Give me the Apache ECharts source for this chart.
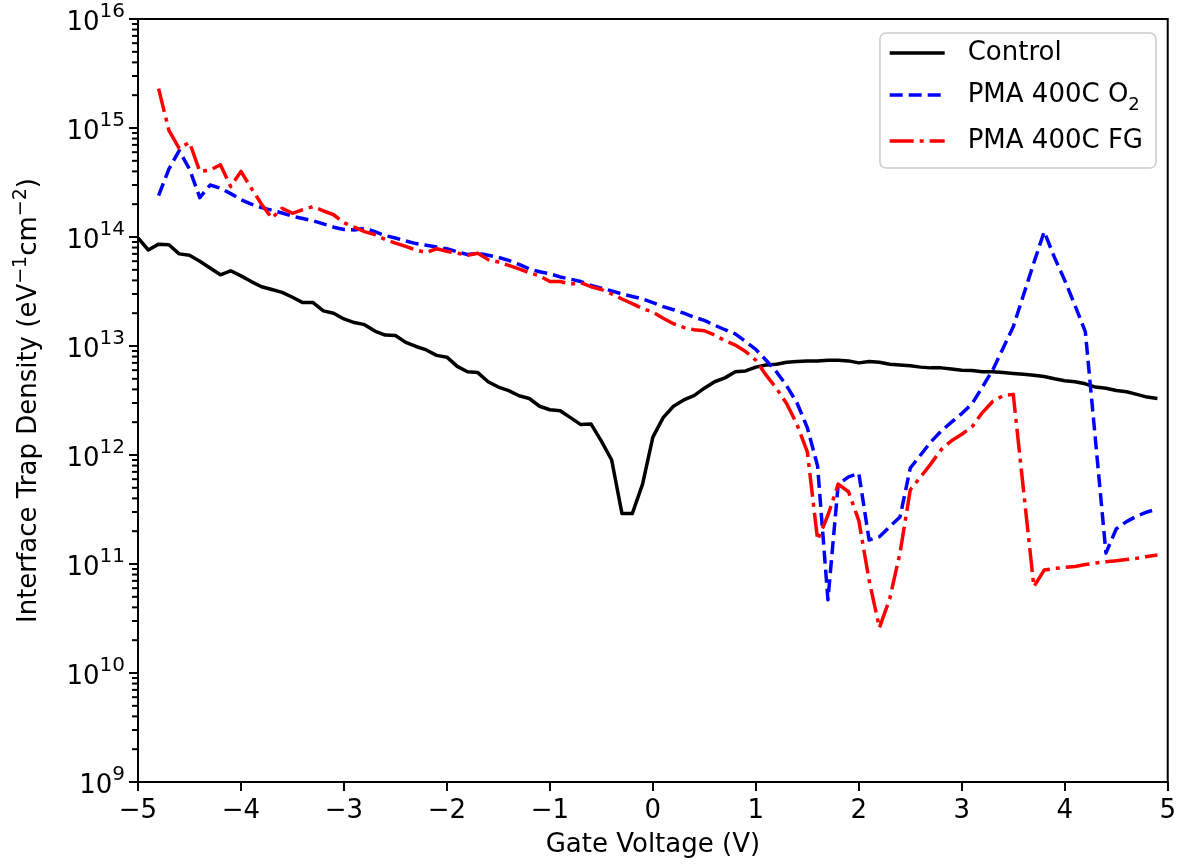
<!DOCTYPE html>
<html>
<head>
<meta charset="utf-8">
<script src="https://cdn.jsdelivr.net/npm/echarts@6/dist/echarts.min.js"></script>
<style>html,body{margin:0;padding:0;background:#fff}#c{width:1179px;height:864px}</style>
</head>
<body>
<div id="c"></div>
<script>
// ---- data ----
const voltageControl = [
  -5.0,-4.9,-4.8,-4.7,-4.6,-4.5,-4.4,-4.3,-4.2,-4.1,
  -4.0,-3.9,-3.8,-3.7,-3.6,-3.5,-3.4,-3.3,-3.2,-3.1,
  -3.0,-2.9,-2.8,-2.7,-2.6,-2.5,-2.4,-2.3,-2.2,-2.1,
  -2.0,-1.9,-1.8,-1.7,-1.6,-1.5,-1.4,-1.3,-1.2,-1.1,
  -1.0,-0.9,-0.8,-0.7,-0.6,-0.5,-0.4,-0.3,-0.2,-0.1,
  0.0,0.1,0.2,0.3,0.4,0.5,0.6,0.7,0.8,0.9,
  1.0,1.1,1.2,1.3,1.4,1.5,1.6,1.7,1.8,1.9,
  2.0,2.1,2.2,2.3,2.4,2.5,2.6,2.7,2.8,2.9,
  3.0,3.1,3.2,3.3,3.4,3.5,3.6,3.7,3.8,3.9,
  4.0,4.1,4.2,4.3,4.4,4.5,4.6,4.7,4.8,4.9
];
const ditControl = [
  9.8e13,7.6e13,8.6e13,8.5e13,7.0e13,6.8e13,6.0e13,5.2e13,4.5e13,4.9e13,
  4.4e13,3.9e13,3.5e13,3.3e13,3.1e13,2.8e13,2.5e13,2.5e13,2.1e13,2.0e13,
  1.77e13,1.64e13,1.57e13,1.37e13,1.26e13,1.25e13,1.08e13,9.9e12,9.2e12,8.2e12,
  7.9e12,6.5e12,5.8e12,5.7e12,4.7e12,4.2e12,3.9e12,3.5e12,3.3e12,2.8e12,
  2.6e12,2.55e12,2.2e12,1.9e12,1.92e12,1.34e12,9.0e11,2.9e11,2.9e11,5.4e11,
  1.46e12,2.2e12,2.8e12,3.2e12,3.5e12,4.1e12,4.7e12,5.1e12,5.8e12,5.9e12,
  6.4e12,6.7e12,6.8e12,7.1e12,7.2e12,7.3e12,7.3e12,7.4e12,7.4e12,7.3e12,
  7.0e12,7.2e12,7.1e12,6.8e12,6.7e12,6.6e12,6.4e12,6.3e12,6.3e12,6.15e12,
  6.0e12,5.95e12,5.8e12,5.8e12,5.7e12,5.6e12,5.5e12,5.4e12,5.25e12,5.0e12,
  4.8e12,4.7e12,4.5e12,4.2e12,4.1e12,3.9e12,3.8e12,3.6e12,3.4e12,3.3e12
];
const voltagePMA = [
  -4.8,-4.7,-4.6,-4.5,-4.4,-4.3,-4.2,-4.1,-4.0,-3.9,
  -3.8,-3.7,-3.6,-3.5,-3.4,-3.3,-3.2,-3.1,-3.0,-2.9,
  -2.8,-2.7,-2.6,-2.5,-2.4,-2.3,-2.2,-2.1,-2.0,-1.9,
  -1.8,-1.7,-1.6,-1.5,-1.4,-1.3,-1.2,-1.1,-1.0,-0.9,
  -0.8,-0.7,-0.6,-0.5,-0.4,-0.3,-0.2,-0.1,0.0,0.1,
  0.2,0.3,0.4,0.5,0.6,0.7,0.8,0.9,1.0,1.1,
  1.2,1.3,1.4,1.5,1.6,1.7,1.8,1.9,2.0,2.1,
  2.2,2.3,2.4,2.5,2.6,2.7,2.8,2.9,3.0,3.1,
  3.2,3.3,3.4,3.5,3.6,3.7,3.8,3.9,4.0,4.1,
  4.2,4.3,4.4,4.5,4.6,4.7,4.8,4.9
];
const ditO2 = [
  2.4e14,4.2e14,6.2e14,4.2e14,2.3e14,3.0e14,2.8e14,2.5e14,2.2e14,2.0e14,
  1.86e14,1.76e14,1.66e14,1.55e14,1.48e14,1.41e14,1.32e14,1.23e14,1.17e14,1.16e14,
  1.2e14,1.12e14,1.03e14,9.8e13,9.2e13,8.7e13,8.4e13,8.1e13,7.8e13,7.3e13,
  6.9e13,7.1e13,6.8e13,6.5e13,6.1e13,5.6e13,5.1e13,4.8e13,4.6e13,4.3e13,
  4.1e13,3.9e13,3.6e13,3.4e13,3.2e13,3.0e13,2.85e13,2.7e13,2.5e13,2.3e13,
  2.15e13,2.0e13,1.84e13,1.72e13,1.55e13,1.41e13,1.29e13,1.1e13,9.3e12,7.4e12,
  5.8e12,4.3e12,3.0e12,1.78e12,7.9e11,4.7e10,5.4e11,6.3e11,6.8e11,1.66e11,
  1.78e11,2.2e11,2.7e11,7.6e11,1.0e12,1.32e12,1.66e12,2.0e12,2.4e12,2.95e12,
  4.2e12,6.0e12,9.5e12,1.5e13,2.95e13,5.8e13,1.12e14,6.5e13,4.0e13,2.35e13,
  1.35e13,1.32e12,1.26e11,2.1e11,2.45e11,2.75e11,3.0e11,3.2e11
];
const ditFG = [
  2.3e15,9.5e14,6.5e14,7.4e14,4.0e14,4.1e14,4.6e14,2.9e14,4.0e14,2.8e14,
  2.0e14,1.49e14,1.83e14,1.65e14,1.78e14,1.9e14,1.74e14,1.6e14,1.35e14,1.23e14,
  1.12e14,1.05e14,9.5e13,8.8e13,8.2e13,7.6e13,7.2e13,7.8e13,7.4e13,7.1e13,
  6.8e13,7.1e13,6.2e13,5.9e13,5.5e13,5.1e13,4.7e13,4.4e13,3.9e13,3.9e13,
  3.7e13,3.8e13,3.5e13,3.3e13,3.0e13,2.7e13,2.45e13,2.2e13,2.05e13,1.8e13,
  1.6e13,1.48e13,1.41e13,1.38e13,1.26e13,1.12e13,1.02e13,8.9e12,7.4e12,5.4e12,
  4.1e12,2.95e12,1.9e12,1.07e12,1.66e11,2.8e11,5.4e11,4.6e11,2.5e11,7.1e10,
  2.6e10,4.8e10,1.26e11,4.8e11,6.3e11,8.3e11,1.12e12,1.35e12,1.55e12,1.82e12,
  2.45e12,3.1e12,3.5e12,3.6e12,4.7e11,6.2e10,8.8e10,9.1e10,9.3e10,9.5e10,
  9.9e10,1.02e11,1.05e11,1.07e11,1.1e11,1.13e11,1.17e11,1.21e11
];
const seriesNames = ['Control', 'PMA 400C O2', 'PMA 400C FG'];
const xTicks = [-5,-4,-3,-2,-1,0,1,2,3,4,5];
const yDecades = [9,10,11,12,13,14,15,16];
const minorMultipliers = [2,3,4,5,6,7,8,9];

// ---- build ----
const pair = (xs, ys) => xs.map((x, i) => [x, ys[i]]);
const minorTicks = [];
yDecades.slice(0, -1).forEach(d => minorMultipliers.forEach(m => minorTicks.push([xTicks[0], m * Math.pow(10, d)])));

const FONT = 'DejaVu Sans';
const chart = echarts.init(document.getElementById('c'), null, {renderer: 'canvas'});
chart.setOption({
  animation: false,
  backgroundColor: '#fff',
  grid: {left: 138, right: 11, top: 19, bottom: 82, show: true, borderColor: '#000', borderWidth: 2, backgroundColor: 'transparent'},
  legend: {
    data: seriesNames,
    orient: 'vertical',
    right: 23, top: 33,
    itemWidth: 55, itemHeight: 14, itemGap: 12,
    padding: [5, 13, 12, 8],
    backgroundColor: '#fff',
    borderColor: '#cccccc', borderWidth: 1.5, borderRadius: 6,
    itemStyle: {opacity: 0},
    lineStyle: {width: 3.5},
    formatter: n => n === 'PMA 400C O2' ? 'PMA 400C O{sub|2}' : n,
    textStyle: {fontFamily: FONT, fontSize: 26, color: '#000', lineHeight: 30, padding: [0, 0, 0, 18],
      rich: {sub: {fontFamily: FONT, fontSize: 18, verticalAlign: 'bottom', lineHeight: 18, padding: [0,0,-4,0]}}}
  },
  xAxis: {
    type: 'value', min: xTicks[0], max: xTicks[xTicks.length - 1], interval: 1,
    name: 'Gate Voltage (V)', nameLocation: 'middle', nameGap: 50,
    nameTextStyle: {fontFamily: FONT, fontSize: 26, color: '#000'},
    axisLine: {show: true, onZero: false, lineStyle: {color: '#000', width: 2}},
    axisTick: {show: true, length: 9, lineStyle: {color: '#000', width: 2}},
    axisLabel: {fontFamily: FONT, fontSize: 26, color: '#000', margin: 16,
      formatter: v => v < 0 ? '\u2212' + Math.abs(v) : String(v)},
    splitLine: {show: false}
  },
  yAxis: {
    type: 'log', logBase: 10, min: Math.pow(10, yDecades[0]), max: Math.pow(10, yDecades[yDecades.length - 1]),
    splitNumber: 7,
    name: 'Interface Trap Density (eV{sup|\u22121}cm{sup|\u22122})', nameLocation: 'middle', nameGap: 92,
    nameTextStyle: {fontFamily: FONT, fontSize: 26, color: '#000', lineHeight: 34,
      rich: {sup: {fontFamily: FONT, fontSize: 19, verticalAlign: 'top', lineHeight: 19}}},
    axisLine: {show: true, onZero: false, lineStyle: {color: '#000', width: 2}},
    axisTick: {show: true, length: 9, lineStyle: {color: '#000', width: 2}},
    axisLabel: {margin: 13, color: '#000',
      formatter: v => '{b|10}{s|' + Math.round(Math.log10(v)) + '}',
      rich: {
        b: {fontFamily: FONT, fontSize: 26, color: '#000', lineHeight: 34, verticalAlign: 'bottom'},
        s: {fontFamily: FONT, fontSize: 20, color: '#000', lineHeight: 20, verticalAlign: 'top'}
      }},
    splitLine: {show: false}
  },
  series: [
    {name: seriesNames[0], type: 'line', data: pair(voltageControl, ditControl), symbol: 'none', z: 3,
      lineStyle: {color: '#000000', width: 3.5, join: 'round', cap: 'butt'}, itemStyle: {color: '#000000'}},
    {name: seriesNames[1], type: 'line', data: pair(voltagePMA, ditO2), symbol: 'none', z: 4,
      lineStyle: {color: '#0000ff', width: 3.5, type: [13, 6], join: 'round', cap: 'butt'}, itemStyle: {color: '#0000ff'}},
    {name: seriesNames[2], type: 'line', data: pair(voltagePMA, ditFG), symbol: 'none', z: 5,
      lineStyle: {color: '#ff0000', width: 3.5, type: [24, 6, 4, 6], join: 'round', cap: 'butt'}, itemStyle: {color: '#ff0000'}},
    {name: 'minorTicks', type: 'custom', coordinateSystem: 'cartesian2d', xAxisIndex: 0, yAxisIndex: 0,
      encode: {x: 0, y: 1}, silent: true, clip: false, z: 6, data: minorTicks,
      renderItem: (params, api) => {
        const p = api.coord([api.value(0), api.value(1)]);
        return {type: 'line', shape: {x1: p[0] - 6, y1: p[1], x2: p[0], y2: p[1]}, style: {stroke: '#000', lineWidth: 2}};
      }}
  ]
});
</script>
</body>
</html>
